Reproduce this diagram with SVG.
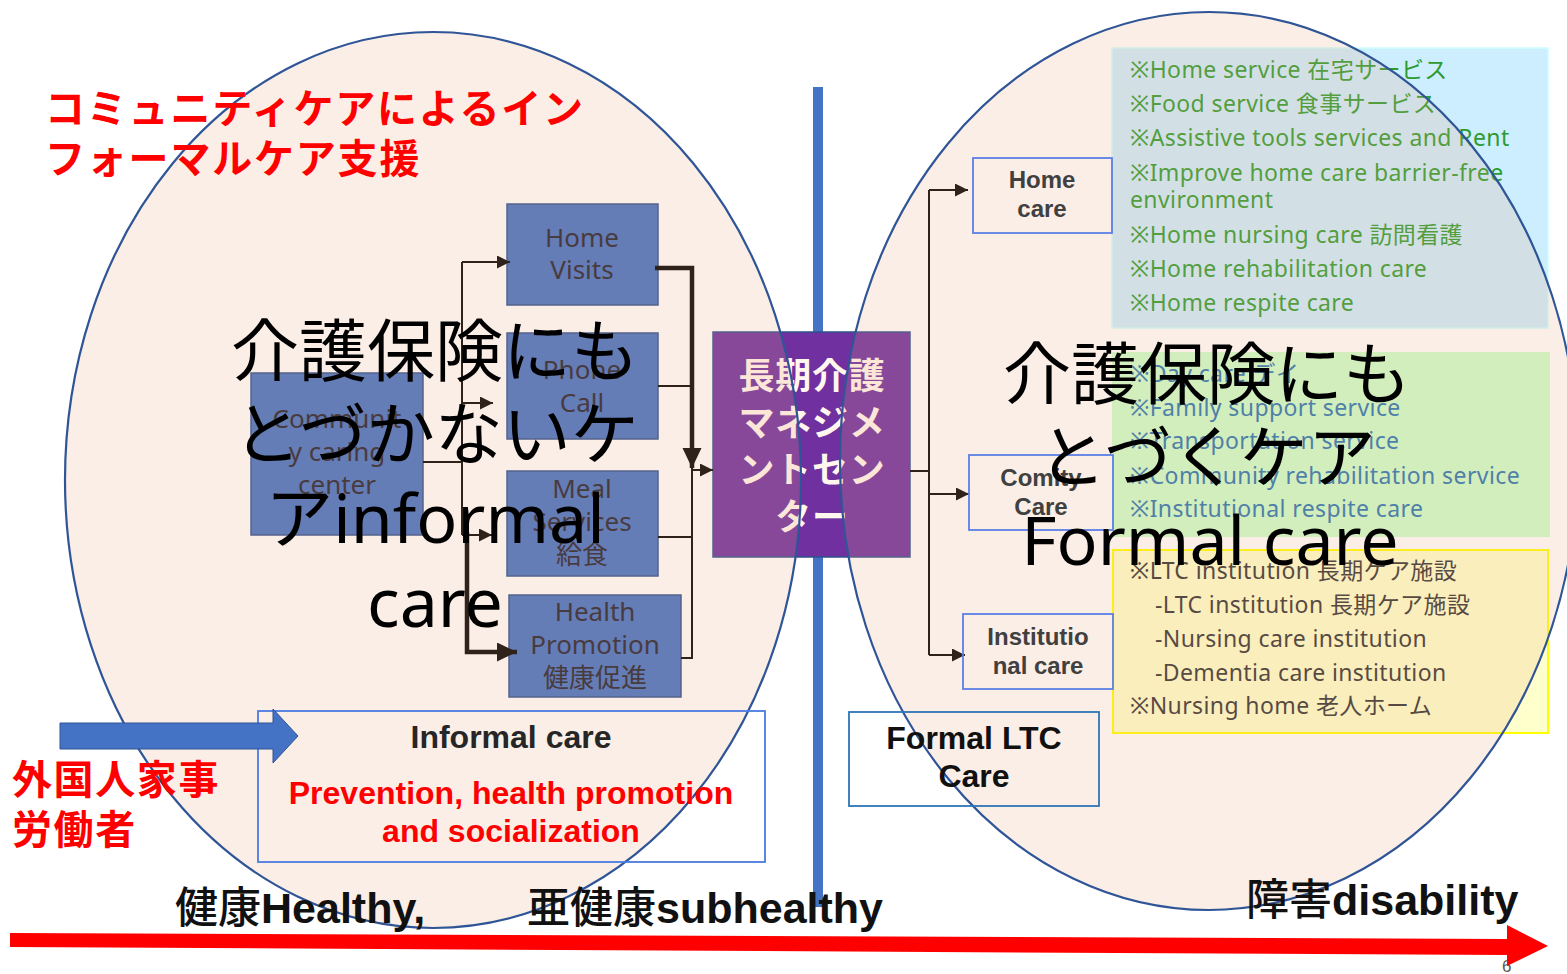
<svg xmlns="http://www.w3.org/2000/svg" width="1567" height="974" viewBox="0 0 1567 974">
<defs>
<style>
.bx{fill:#4472C4;stroke:#2F528F;stroke-width:1.5}
.bt{font-family:"Noto Sans","Noto Sans CJK JP",sans-serif;font-size:26px;fill:#202030;text-anchor:middle}
.lst{font-family:"Noto Sans","Noto Sans CJK JP",sans-serif;font-size:23px;letter-spacing:0.4px}
.big{font-family:"Noto Sans","Noto Sans CJK JP",sans-serif;font-size:68px;fill:#000;text-anchor:middle}
.rb{font-family:"Liberation Sans","Noto Sans CJK JP",sans-serif;font-size:24px;font-weight:bold;fill:#404040;text-anchor:middle}
.rbox{fill:none;stroke:#5B7FE6;stroke-width:1.8}
.red{font-family:"Noto Sans CJK JP",sans-serif;font-weight:bold;fill:#FF0000;font-size:40px}
.bot{font-family:"Liberation Sans","Noto Sans CJK JP",sans-serif;font-weight:bold;font-size:43px;fill:#111}
.cj{font-family:"Noto Sans CJK JP",sans-serif;font-weight:500}
.ln{fill:none;stroke:#000;stroke-width:2}
.tk{fill:none;stroke:#000;stroke-width:4.5}
.ell{fill:#EBAA82;fill-opacity:0.2;stroke:#2F5597;stroke-width:2.2}
</style>
<marker id="ah" markerUnits="userSpaceOnUse" markerWidth="14" markerHeight="14" refX="13" refY="6.5" orient="auto"><path d="M0,0 L13,6.5 L0,13 z" fill="#000"/></marker>
<marker id="ahb" markerUnits="userSpaceOnUse" markerWidth="21" markerHeight="20" refX="20" refY="9.5" orient="auto"><path d="M0,0 L20,9.5 L0,19 z" fill="#000"/></marker>
</defs>
<rect width="1567" height="974" fill="#FFFFFF"/>

<rect id="divider" x="813" y="87" width="10" height="820" fill="#4472C4"/>

<g id="home-services">
<rect x="1112" y="48" width="436" height="280" fill="#CCEEFF" stroke="#CCFFFF" stroke-width="1.5"/>
<g class="lst" fill="#2E9B2E">
<text x="1130" y="78">※Home service 在宅サービス</text>
<text x="1130" y="112">※Food service 食事サービス</text>
<text x="1130" y="146">※Assistive tools services and Rent</text>
<text x="1130" y="181">※Improve home care barrier-free</text>
<text x="1130" y="208">environment</text>
<text x="1130" y="243">※Home nursing care 訪問看護</text>
<text x="1130" y="277">※Home rehabilitation care</text>
<text x="1130" y="311">※Home respite care</text>
</g>
</g>

<g id="community-services">
<rect x="1112" y="352" width="438" height="185" fill="#CCFFCC"/>
<g class="lst" fill="#2976B2">
<text x="1130" y="382">※Day care デイ</text>
<text x="1130" y="416">※Family support service</text>
<text x="1130" y="449">※Transportation service</text>
<text x="1130" y="484">※Community rehabilitation service</text>
<text x="1130" y="517">※Institutional respite care</text>
</g>
</g>

<g id="institution-services">
<rect x="1113" y="550" width="435" height="183" fill="#FFFFCC" stroke="#FFFF00" stroke-width="2"/>
<g class="lst" fill="#333333">
<text x="1130" y="579">※LTC institution 長期ケア施設</text>
<text x="1155" y="613">-LTC institution 長期ケア施設</text>
<text x="1155" y="647">-Nursing care institution</text>
<text x="1155" y="681">-Dementia care institution</text>
<text x="1130" y="714">※Nursing home 老人ホーム</text>
</g>
</g>

<g id="community-center">
<rect class="bx" x="251" y="373" width="172" height="162"/>
<text class="bt" x="337" y="428">Communit</text>
<text class="bt" x="337" y="461">y caring</text>
<text class="bt" x="337" y="494">center</text>
</g>
<g id="home-visits">
<rect class="bx" x="507" y="204" width="151" height="101"/>
<text class="bt" x="582" y="247">Home</text>
<text class="bt" x="582" y="279">Visits</text>
</g>
<g id="phone-call">
<rect class="bx" x="507" y="333" width="151" height="106"/>
<text class="bt" x="582" y="379">Phone</text>
<text class="bt" x="582" y="412">Call</text>
</g>
<g id="meal-services">
<rect class="bx" x="507" y="471" width="151" height="105"/>
<text class="bt" x="582" y="498">Meal</text>
<text class="bt" x="582" y="531">Services</text>
<text class="bt" x="582" y="564">給食</text>
</g>
<g id="health-promotion">
<rect class="bx" x="509" y="595" width="172" height="102"/>
<text class="bt" x="595" y="621">Health</text>
<text class="bt" x="595" y="654">Promotion</text>
<text class="bt" x="595" y="687">健康促進</text>
</g>
<g id="ltc-center">
<rect x="713" y="332" width="197" height="225" fill="#7030A0" stroke="#2F528F" stroke-width="1.5"/>
<g font-family="Noto Sans CJK JP, sans-serif" font-weight="bold" font-size="36" fill="#FFF6EE" text-anchor="middle" letter-spacing="0.7">
<text x="812" y="389">長期介護</text>
<text x="812" y="436">マネジメ</text>
<text x="812" y="483">ントセン</text>
<text x="812" y="530">ター</text>
</g>
</g>

<g id="connectors">
<path class="ln" d="M423,462 H462"/>
<path class="ln" d="M462,262 V535"/>
<path class="ln" d="M462,262 H510" marker-end="url(#ah)"/>
<path class="ln" d="M462,403 H493" marker-end="url(#ah)"/>
<path class="ln" d="M462,535 H492" marker-end="url(#ah)"/>
<path class="tk" d="M467,532 V652 H517" marker-end="url(#ahb)"/>
<path class="tk" d="M655,268 H692 V468" marker-end="url(#ahb)"/>
<path class="ln" d="M658,386 H692"/>
<path class="ln" d="M658,537 H692"/>
<path class="ln" d="M681,658 H692 V468"/>
<path class="ln" d="M692,470 H713" marker-end="url(#ah)"/>
<path class="ln" d="M910,471 H929"/>
<path class="ln" d="M929,190 V655"/>
<path class="ln" d="M929,190 H968" marker-end="url(#ah)"/>
<path class="ln" d="M929,494 H969" marker-end="url(#ah)"/>
<path class="ln" d="M929,655 H965" marker-end="url(#ah)"/>
</g>

<text x="1502" y="972" font-family="Liberation Sans, sans-serif" font-size="17" fill="#595959">6</text>

<g id="informal-zone"><ellipse class="ell" cx="433" cy="480" rx="368" ry="448"/></g>
<g id="formal-zone"><ellipse class="ell" cx="1209" cy="461" rx="369" ry="449"/></g>

<g id="home-care">
<rect class="rbox" x="973" y="158" width="139" height="75"/>
<text class="rb" x="1042" y="188">Home</text>
<text class="rb" x="1042" y="217">care</text>
</g>
<g id="comity-care">
<rect class="rbox" x="969" y="455" width="144" height="75"/>
<text class="rb" x="1041" y="486">Comity</text>
<text class="rb" x="1041" y="515">Care</text>
</g>
<g id="institutional-care">
<rect class="rbox" x="963" y="614" width="150" height="75"/>
<text class="rb" x="1038" y="645">Institutio</text>
<text class="rb" x="1038" y="674">nal care</text>
</g>

<g id="formal-ltc">
<rect x="849" y="712" width="250" height="94" fill="none" stroke="#2E75B6" stroke-width="1.8"/>
<g font-family="Liberation Sans, sans-serif" font-weight="bold" font-size="32" fill="#111" text-anchor="middle">
<text x="974" y="749">Formal LTC</text>
<text x="974" y="787">Care</text>
</g>
</g>

<g id="informal-care">
<rect x="258" y="711" width="507" height="151" fill="none" stroke="#4A7BE0" stroke-width="1.8"/>
<text x="511" y="748" font-family="Liberation Sans, sans-serif" font-weight="bold" font-size="32" fill="#262626" text-anchor="middle">Informal care</text>
<g font-family="Liberation Sans, sans-serif" font-weight="bold" font-size="32" fill="#FF0000" text-anchor="middle">
<text x="511" y="804">Prevention, health promotion</text>
<text x="511" y="842">and socialization</text>
</g>
</g>

<g id="worker-arrow">
<path d="M60,723 H273 V709 L298,736 L273,763 V749 H60 Z" fill="#4472C4" stroke="#2F5597" stroke-width="1"/>
</g>

<g id="big-left">
<text class="big" x="435" y="376">介護保険にも</text>
<text class="big" x="436" y="459">とづかないケ</text>
<text class="big" x="435" y="543">アinformal</text>
<text class="big" x="435" y="627">care</text>
</g>
<g id="big-right">
<text class="big" x="1207" y="399">介護保険にも</text>
<text class="big" x="1207" y="482">とづくケア</text>
<text class="big" x="1210" y="565">Formal care</text>
</g>

<g id="title">
<text class="red" x="45" y="123" letter-spacing="1.8">コミュニティケアによるイン</text>
<text class="red" x="45" y="173" letter-spacing="1.8">フォーマルケア支援</text>
</g>
<g id="workers">
<text class="red" x="12" y="794" letter-spacing="1.6">外国人家事</text>
<text class="red" x="12" y="844" letter-spacing="1.6">労働者</text>
</g>

<g id="axis">
<text class="bot" x="175" y="923"><tspan class="cj">健康</tspan>Healthy,</text>
<text class="bot" x="527" y="923"><tspan class="cj">亜健康</tspan>subhealthy</text>
<text class="bot" x="1246" y="915"><tspan class="cj">障害</tspan>disability</text>
<polygon points="10,933 1507,939 1507,925 1548,946 1507,966 1507,955 10,947" fill="#FF0000"/>
</g>
</svg>
